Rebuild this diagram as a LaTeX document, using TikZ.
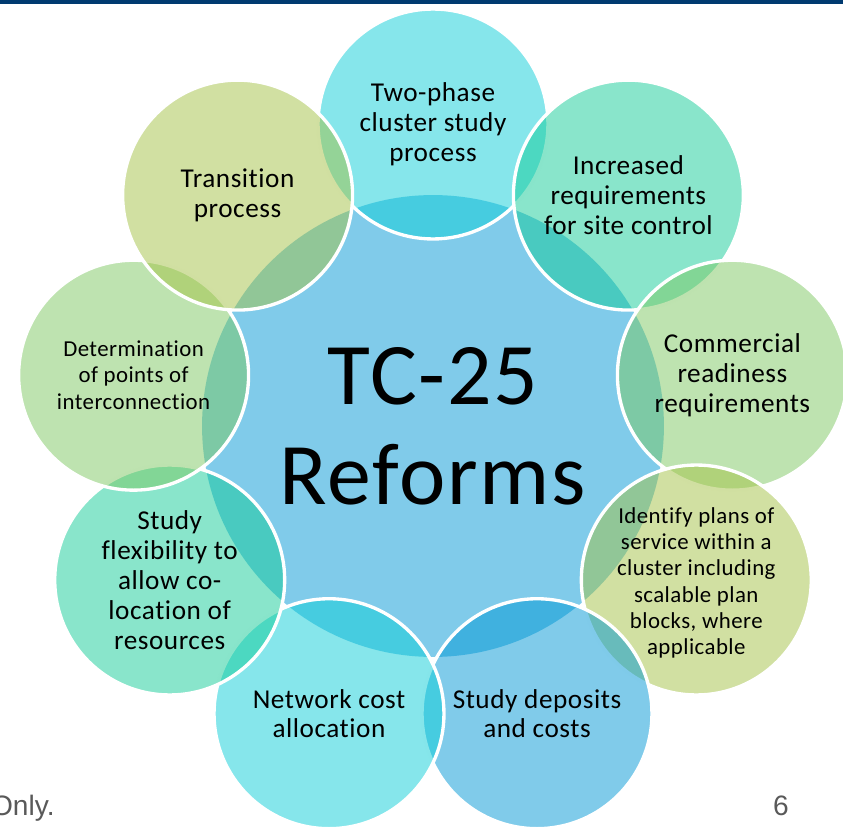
\documentclass[tikz,border=0pt]{standalone}
\usepackage{fontspec}
\setmainfont{Carlito}[Ligatures=NoCommon,LetterSpace=2]
\newfontfamily\footfont{Liberation Sans}
\usepackage{xcolor}
\usepackage{tikz}
\usetikzlibrary{positioning}

\definecolor{hubblue}{RGB}{1,151,213}
\definecolor{petalcyan}{RGB}{13,205,215}
\definecolor{petalmint}{RGB}{19,203,151}
\definecolor{petalgreen}{RGB}{125,199,97}
\definecolor{petallime}{RGB}{163,193,69}
\definecolor{barnavy}{RGB}{0,58,112}
\definecolor{footgray}{RGB}{89,89,89}

\begin{document}
\begin{tikzpicture}[x=0.02cm,y=-0.02cm,
  petal/.style={circle,draw=white,line width=1.9pt,minimum size=4.6cm,inner sep=0pt,fill opacity=0.5},
  blurb/.style={align=center,font=\fontsize{15.5}{17}\selectfont},
  smallblurb/.style={align=center,font=\fontsize{13}{15}\selectfont}]
\useasboundingbox (0,0) rectangle (843,828);
\fill[barnavy] (0,0) rectangle (843,4);
\node[circle,fill=hubblue,fill opacity=0.5,text opacity=1,minimum size=9.24cm,inner sep=0pt,align=center,font=\fontsize{50}{57}\selectfont] (hub) at (433,426) {TC-25\\Reforms};
% petals, clockwise from the top
\node[petal,fill=petalcyan] (phase) at (433,124) {};
\node[blurb] (phase-txt) at (phase) {Two-phase\\cluster study\\process};
\node[petal,fill=petalmint] (site) at (628.4,195.1) {};
\node[blurb] (site-txt) at (site) {Increased\\requirements\\for site control};
\node[petal,fill=petalgreen] (ready) at (732.4,375.2) {};
\node[blurb] (ready-txt) at (ready) {Commercial\\readiness\\requirements};
\node[petal,fill=petallime] (plans) at (696.3,580) {};
\node[smallblurb] (plans-txt) at (696.3,583) {Identify plans of\\service within a\\cluster including\\scalable plan\\blocks, where\\applicable};
\node[petal,fill=hubblue] (deposit) at (537,713.7) {};
\node[blurb] (deposit-txt) at (deposit) {Study deposits\\and costs};
\node[petal,fill=petalcyan] (netcost) at (329,713.7) {};
\node[blurb] (netcost-txt) at (netcost) {Network cost\\allocation};
\node[petal,fill=petalmint] (flex) at (169.7,580) {};
\node[blurb] (flex-txt) at (flex) {Study\\flexibility to\\allow co-\\location of\\resources};
\node[petal,fill=petalgreen] (poi) at (133.6,375.2) {};
\node[smallblurb] (poi-txt) at (poi) {Determination\\of points of\\interconnection};
\node[petal,fill=petallime] (trans) at (237.6,195.1) {};
\node[blurb] (trans-txt) at (trans) {Transition\\process};
% footer
\node[footgray,font=\footfont\fontsize{16}{18}\selectfont,anchor=base east,inner sep=0pt] (only) at (55,815) {Only.};
\node[footgray,font=\footfont\fontsize{16}{18}\selectfont,anchor=base,inner sep=0pt] (page) at (781,815) {6};
\end{tikzpicture}
\end{document}
